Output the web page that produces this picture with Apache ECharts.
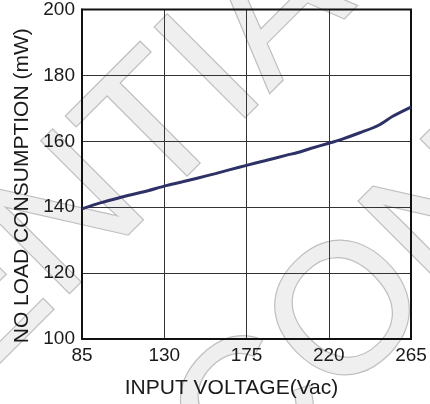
<!DOCTYPE html>
<html>
<head>
<meta charset="utf-8">
<script src="https://cdn.jsdelivr.net/npm/echarts@6/dist/echarts.min.js"></script>
<style>html,body{margin:0;padding:0;background:#fff}#c{width:430px;height:404px}</style>
</head>
<body>
<div id="c"></div>
<script>
// Data
const voltage = [85, 95, 105, 121, 130, 140, 148, 158, 166, 175, 185, 197, 203, 210, 220, 227, 237, 247, 255, 265];
const consumption = [139.5, 141.3, 142.8, 145, 146.4, 147.7, 148.8, 150.2, 151.4, 152.7, 154.1, 155.8, 156.6, 157.8, 159.4, 160.6, 162.6, 164.8, 167.6, 170.4];
const xTicks = [85, 130, 175, 220, 265];
const yTicks = [100, 120, 140, 160, 180, 200];
const X_MIN = 85, X_MAX = 265, X_STEP = 45;
const watermarkText = 'CONFIDENTIAL';

const chart = echarts.init(document.getElementById('c'), null, {renderer: 'canvas'});
const font = 'Liberation Sans, Arial, sans-serif';
const wm = {fill: '#efefef', stroke: '#bfbfbf', lineWidth: 2.5, fontSize: 185,
  fontFamily: 'Liberation Sans, Arial, sans-serif', fontWeight: 'normal',
  align: 'left', verticalAlign: 'middle'};
const rot = 45 * Math.PI / 180;
chart.setOption({
  animation: false,
  backgroundColor: '#fff',
  graphic: [
    {type: 'text', z: -10, x: 206, y: 462, rotation: rot, style: Object.assign({text: watermarkText}, wm)},
    {type: 'text', z: -10, x: -566, y: 856, rotation: rot, style: Object.assign({text: watermarkText}, wm)}
  ],
  grid: {left: 82, right: 19, top: 9, bottom: 65, show: true, borderColor: '#111', borderWidth: 2, z: 2},
  xAxis: {
    type: 'value', min: 0, max: X_MAX - X_MIN, interval: X_STEP,
    name: 'INPUT VOLTAGE(Vac)', nameLocation: 'middle', nameGap: 39,
    nameTextStyle: {fontFamily: font, fontSize: 21, color: '#1a1a1a', padding: [0, 30, 0, 0]},
    axisLine: {show: true, lineStyle: {color: '#111', width: 2}},
    axisTick: {show: false},
    axisLabel: {fontFamily: font, fontSize: 19, color: '#1a1a1a', margin: 7,
      formatter: v => String(v + X_MIN)},
    splitLine: {show: true, lineStyle: {color: '#333', width: 1}}
  },
  yAxis: {
    type: 'value', min: yTicks[0], max: yTicks[yTicks.length - 1], interval: 20,
    name: 'NO LOAD CONSUMPTION (mW)', nameLocation: 'middle', nameGap: 49,
    nameTextStyle: {fontFamily: font, fontSize: 21, color: '#1a1a1a', padding: [0, 23, 0, 0]},
    axisLine: {show: true, lineStyle: {color: '#111', width: 2}},
    axisTick: {show: false},
    axisLabel: {fontFamily: font, fontSize: 19, color: '#1a1a1a', margin: 7},
    splitLine: {show: true, lineStyle: {color: '#333', width: 1}}
  },
  series: [{
    type: 'line', z: 5, symbol: 'none', smooth: 0.3,
    lineStyle: {color: '#2e3166', width: 3},
    data: voltage.map((v, i) => [v - X_MIN, consumption[i]])
  }]
});
</script>
</body>
</html>
